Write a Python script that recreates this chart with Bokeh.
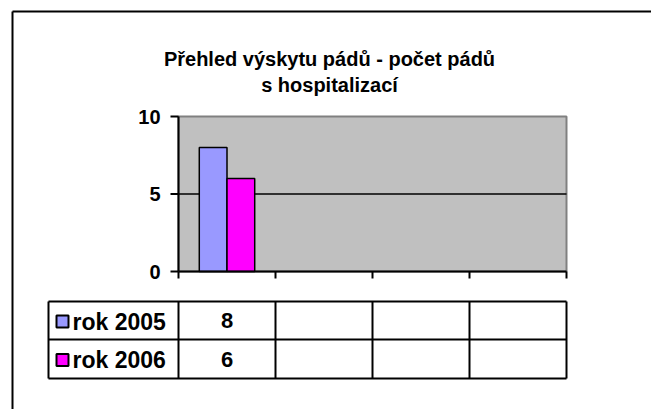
import numpy as np
from bokeh.plotting import figure
from bokeh.models import Range1d
from bokeh.embed import file_html
from bokeh.resources import INLINE
from bokeh.core.properties import value

# ---- data ----
title_lines = ["Přehled výskytu pádů - počet pádů", "s hospitalizací"]
categories = ["1", "2", "3", "4"]
series_names = ["rok 2005", "rok 2006"]
values_2005 = [8, None, None, None]
values_2006 = [6, None, None, None]
series_colors = ["#9999FF", "#FF00FF"]
y_ticks = [0, 5, 10]
y_max = 10

FONT = value("Liberation Sans")
series_values = [values_2005, values_2006]
n = len(categories)

W, H = 651, 409
p = figure(width=W, height=H, x_range=Range1d(0, W), y_range=Range1d(H, 0),
           output_backend="svg", toolbar_location=None, min_border=0,
           x_axis_location=None, y_axis_location=None)
p.grid.visible = False
p.outline_line_color = None
p.background_fill_color = "white"
p.border_fill_color = "white"

# ---- page layout (pixels) ----
plot_left, plot_right, plot_top, plot_bottom = 178, 566, 116, 271
col_edges = [48, 178, 275, 372, 469, 566]
row_edges = [301, 339, 378]

# outer frame (left and top edges visible)
p.segment(x0=[12, 12], y0=[11, 11], x1=[12, W + 5], y1=[H + 5, 11], line_color="black", line_width=2)

# title
for txt, cy in zip(title_lines, [58, 84]):
    p.text(x=[329], y=[cy], text=[txt], text_align="center", text_baseline="alphabetic",
           text_font=FONT, text_font_style="bold", text_font_size="20px", text_color="black")

# ---- chart through sub-coordinates ----
sub = p.subplot(x_source=Range1d(0, n), y_source=Range1d(0, y_max),
                x_target=Range1d(plot_left, plot_right), y_target=Range1d(plot_bottom, plot_top))

sub.quad(left=[0], right=[n], bottom=[0], top=[y_max], fill_color="#C0C0C0",
         line_color="#808080", line_width=2)
inner = [t for t in y_ticks if 0 < t < y_max]
sub.segment(x0=[0] * len(inner), y0=inner, x1=[n] * len(inner), y1=inner,
            line_color="black", line_width=1.5)

bar_w = 1 / 3.5
centers = np.arange(n) + 0.5
for i, (vals, col) in enumerate(zip(series_values, series_colors)):
    top = np.array([np.nan if v is None else v for v in vals], dtype=float)
    off = (i - 0.5) * bar_w
    sub.vbar(x=centers + off, top=top, bottom=0, width=bar_w,
             fill_color=col, line_color="black", line_width=1.5)

# axes lines
sub.segment(x0=[0, 0], y0=[0, 0], x1=[0, n], y1=[y_max, 0], line_color="black", line_width=2)
# y ticks
sub.ray(x=[0] * len(y_ticks), y=y_ticks, length=8, length_units="screen", angle=np.pi,
        line_color="black", line_width=2)
sub.text(x=[0] * len(y_ticks), y=y_ticks, text=[str(t) for t in y_ticks], x_offset=-18, y_offset=0,
         text_align="right", text_baseline="alphabetic", text_font=FONT,
         text_font_style="bold", text_font_size="20px", text_color="black")
# x ticks at category boundaries
sub.ray(x=list(range(n + 1)), y=[0] * (n + 1), length=7, length_units="screen", angle=-np.pi / 2,
        line_color="black", line_width=2)

# ---- data table ----
p.segment(x0=[col_edges[0]] * len(row_edges), y0=row_edges,
          x1=[col_edges[-1]] * len(row_edges), y1=row_edges, line_color="black", line_width=2)
p.segment(x0=col_edges, y0=[row_edges[0]] * len(col_edges),
          x1=col_edges, y1=[row_edges[-1]] * len(col_edges), line_color="black", line_width=2)

row_c = [(row_edges[i] + row_edges[i + 1]) / 2 for i in range(len(series_names))]
p.scatter(x=[62] * len(series_names), y=[c + 1 for c in row_c], marker="square", size=12,
          fill_color=series_colors, line_color="black", line_width=2)
p.text(x=[72] * len(series_names), y=[c + 1 for c in row_c], text=series_names,
       text_align="left", text_baseline="alphabetic", text_font=FONT,
       text_font_style="bold", text_font_size="23px", text_color="black")

for j in range(n):
    cx = (col_edges[j + 1] + col_edges[j + 2]) / 2
    for i, vals in enumerate(series_values):
        if vals[j] is not None:
            p.text(x=[cx], y=[row_c[i] + 0], text=[str(vals[j])], text_align="center",
                   text_baseline="alphabetic", text_font=FONT,
                   text_font_style="bold", text_font_size="22px", text_color="black")

open("out.html", "w").write(file_html(p, INLINE))
